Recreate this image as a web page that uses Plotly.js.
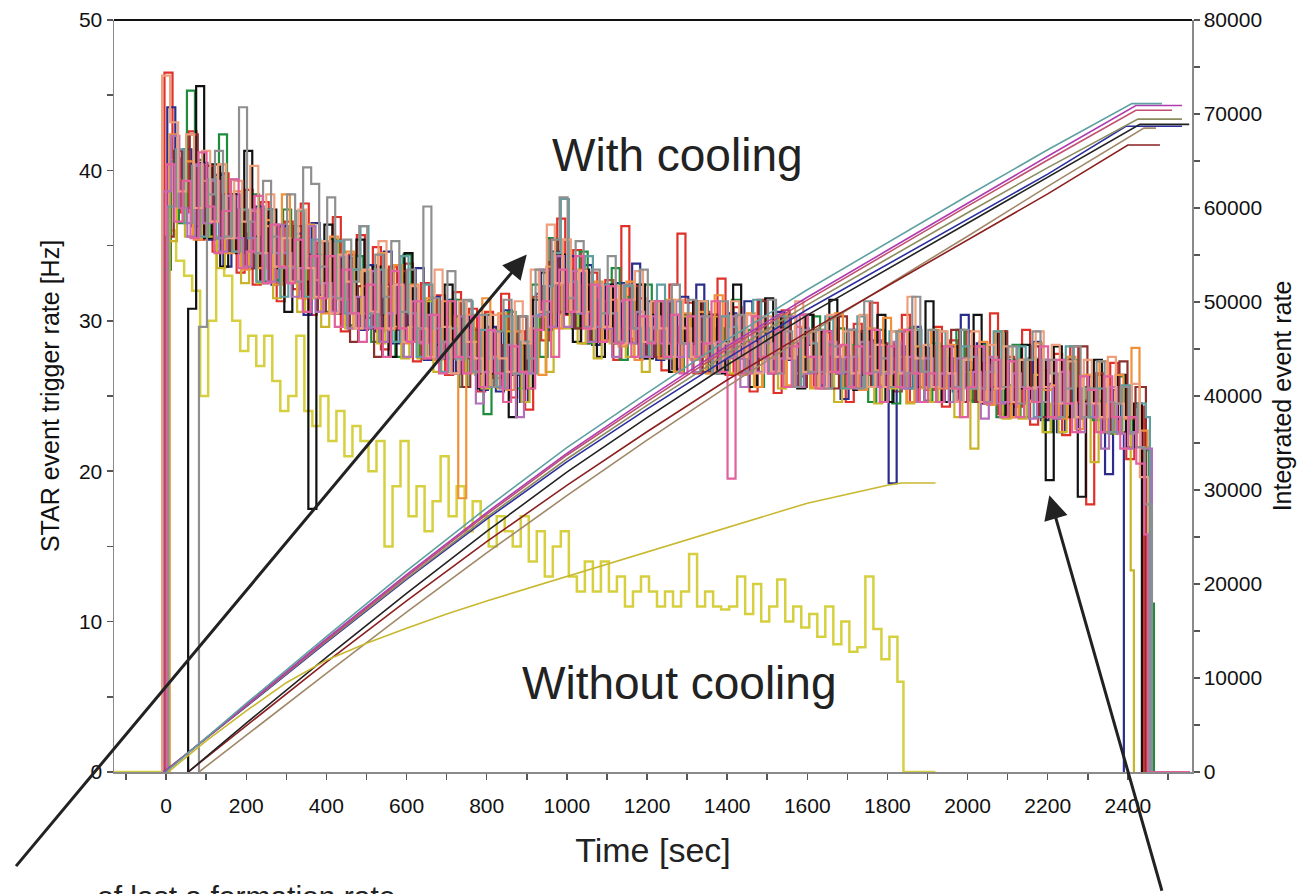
<!DOCTYPE html>
<html>
<head>
<meta charset="utf-8">
<script src="https://cdn.plot.ly/plotly-3.0.1.min.js"></script>
<style>html,body{margin:0;padding:0;background:#fff;overflow:hidden}</style>
</head>
<body>
<div id="chart" style="width:1303px;height:894px"></div>
<script>
const binWidth = 20; // sec per rate bin

// ---- STAR event trigger rate [Hz], runs WITH cooling (20 s bins) ----
const redRate = [46.5,40.8,37.2,42.6,35.4, 40.3,34.6,39.8,36.1,33.2, 38.7,32.4,37.9,34.8,31.3, 36.6,32.1,37.8,30.4,35.2, 31.6,36.9,29.3,34.4,35.7, 30.2,34.9,28.1,33.6,29.4, 33.8,27.3,32.5,28.6,31.7, 26.4,31.9,27.5,30.8,25.3, 30.6,26.2,31.8,24.9,29.3, 24.1,31.6,28.7,33.9,36.8, 30.4,34.7,28.5,33.2,29.6, 32.7,27.4,36.3,28.8,31.5, 27.6,31.3,26.7,32.4,35.8, 31.2,26.5,30.6,27.3,32.8, 26.4,30.9,28.6,25.3,31.4, 29.5,25.2,30.7,27.6,26.3, 30.4,25.6,29.2,26.5,28.3, 24.6,29.8,26.4,31.2,25.7, 28.5,25.3,30.4,24.6,28.2, 25.4,29.6,24.3,28.7,26.5, 29.3,24.6,27.2,30.5,23.8, 27.6,24.3,29.4,23.1,26.7, 23.6,27.8,22.4,28.3,24.7, 17.8,26.4,23.5,27.2,22.6, 20.8,24.3];
const navyRate = [44.2,38.6,41.4,36.3,40.5, 35.4,39.7,33.6,38.4,35.8, 33.5,37.6,34.7,32.4,36.3, 32.6,35.8,30.4,36.5,31.7, 35.3,30.6,34.2,31.5,29.4, 33.7,29.3,34.6,28.5,32.4, 29.7,33.5,27.4,31.6,28.3, 31.4,26.6,30.3,27.5,25.4, 29.6,25.3,30.7,26.4,24.6, 27.5,31.8,29.4,34.6,30.5, 34.3,29.6,33.7,28.4,32.2, 28.7,32.5,29.6,33.8,27.5, 31.3,27.4,30.5,26.8,31.6, 28.5,32.4,27.6,30.3,26.7, 30.5,26.6,31.3,27.7,29.2, 26.5,30.6,27.4,25.6,29.5, 28.4,25.7,29.3,26.6,24.8, 29.4,26.5,25.6,28.7,26.4, 19.2,28.3,25.5,29.6,26.7, 28.2,24.6,27.5,25.3,30.4, 24.7,28.5,25.4,27.3,23.6, 27.4,24.5,25.7,28.6,23.4, 25.8,22.6,27.3,24.5,23.7, 26.3,23.6,19.8,25.4,22.5];
const orangeRate = [42.4,37.5,40.6,35.4,39.3, 36.6,40.4,34.5,38.6,33.4, 37.3,33.5,36.7,32.4,38.4, 33.6,31.5,36.4,32.7,30.5, 35.6,31.4,34.6,29.5,33.3, 30.6,34.5,29.4,33.7,28.5, 32.4,28.6,31.5,27.4,31.3, 28.5,18.2,30.4,26.6,31.5, 27.6,30.5,25.4,29.3,26.6, 29.5,26.4,33.6,29.5,35.4, 30.6,33.4,29.5,32.6,28.7, 31.4,28.3,32.6,27.4,30.3, 29.6,27.5,31.4,26.6,30.5, 27.4,30.6,26.5,31.7,27.6, 28.6,26.4,30.5,25.6,29.3, 27.5,30.4,25.7,29.6,26.5, 25.6,29.4,26.6,30.5,25.5, 27.6,25.4,29.5,26.7,30.2, 26.6,29.4,24.6,28.3,25.6, 29.4,25.5,28.4,24.7,27.5, 25.5,28.6,24.4,29.3,25.6, 23.6,27.4,24.7,28.5,25.4, 25.7,23.5,27.6,22.8,26.4, 24.5,27.3,22.6,26.4,23.5, 28.2,22.7,21.6];
const greenRate = [33.4,40.6,36.5,45.3,40.7, 37.6,35.5,42.4,34.6,37.4, 34.5,38.4,33.6,36.5,32.7, 37.4,32.6,35.5,31.6,34.4, 30.6,35.4,32.5,29.7,34.3, 31.5,28.6,33.4,30.5,27.6, 34.4,29.5,27.6,31.3,28.4, 27.5,31.4,25.6,29.5,26.4, 23.8,29.4,26.5,30.6,25.5, 28.6,32.4,27.6,35.5,30.6, 33.4,29.5,34.6,28.5,31.4, 29.6,33.5,27.4,31.6,28.5, 32.4,27.6,30.5,28.5,26.6, 30.4,27.5,31.3,26.6,29.5, 27.6,31.4,26.5,29.4,25.6, 29.5,26.6,30.4,27.5,25.6, 26.6,30.3,25.5,28.4,29.5, 25.6,28.4,26.5,24.6,29.4, 27.6,24.5,27.4,29.5,25.6, 24.7,28.5,25.6,27.3,29.4, 26.5,24.6,28.4,25.5,23.6, 25.7,28.4,23.6,27.5,24.6, 22.6,26.4,24.5,27.4,23.5, 25.6,23.4,24.7,22.5,26.3, 23.6,21.6,21.4,11.2];
const blackRate = [30.8,45.6,35.5,40.4,33.6, 38.4,34.5,41.3,35.6,32.5, 37.4,33.5,30.6,35.4,32.6, 17.5,32.6,36.4,30.5,34.3, 31.6,35.4,29.5,33.6,30.4, 27.6,32.4,34.5,28.6,31.3, 29.6,27.5,32.4,26.5,30.3, 27.6,25.5,30.4,26.5,29.3, 23.6,28.4,25.5,31.4,33.2, 29.6,34.4,30.5,28.6,33.4, 29.5,27.6,32.4,28.5,31.3, 28.6,32.4,27.5,30.4,31.3, 26.6,30.4,28.5,31.3,27.6, 30.4,26.5,28.6,32.4,27.5, 25.6,29.4,31.5,26.6,30.3, 27.6,25.5,30.4,26.6,29.3, 31.4,26.5,27.6,25.4,29.3, 26.6,30.4,24.6,28.3,26.5, 29.4,25.6,31.3,26.5,24.6, 28.3,25.6,26.7,30.4,24.5, 27.4,29.3,23.6,25.5,28.4, 24.6,27.4,19.4,28.3,23.6, 25.5,18.3,24.6,27.4,22.6, 23.5,26.4,21.6,24.5];
const grayRate = [29.6,38.4,41.3,35.6,39.4, 44.2,36.6,34.5,39.3,35.6, 33.5,38.4,32.6,40.2,39.1, 33.6,38.2,31.5,35.4,32.6, 36.3,30.5,34.4,31.6,35.3, 30.6,33.4,29.5,37.6,31.5, 28.6,33.3,27.5,31.4,26.6, 30.4,25.6,29.3,31.4,26.5, 30.3,27.5,33.4,30.6,35.4, 38.2,31.5,35.3,29.6,33.4, 30.5,34.3,28.6,32.4,29.5, 33.4,28.6,31.3,27.5,32.4, 28.5,31.4,27.6,30.3,26.5, 31.3,27.6,30.4,26.5,29.3, 27.6,31.4,26.5,29.3,25.6, 30.4,26.6,29.4,25.5,28.3, 26.6,29.4,25.5,31.3,26.6, 27.5,25.6,29.3,26.5,31.6, 26.6,29.4,24.6,28.3,25.6, 29.4,25.5,28.3,24.6,27.4, 25.6,28.3,24.5,27.4,29.3, 24.6,27.4,23.6,25.5,28.3, 23.6,25.5,27.3,22.6,24.5, 25.6,22.5,21.6,17.8];
const salmonRate = [46.3,43.2,38.6,42.4,37.5, 41.3,36.6,40.4,35.5,39.3, 36.6,40.3,34.5,38.4,33.6, 35.5,32.6,37.4,33.5,31.6, 35.3,30.5,34.4,32.6,29.5, 33.4,30.6,35.3,29.5,32.4, 28.6,32.3,29.5,27.6,33.4, 29.6,26.5,31.3,28.6,27.5, 25.6,30.4,27.5,26.6,31.3, 28.5,33.4,30.6,36.4,32.5, 35.4,30.6,33.3,29.5,32.4, 29.6,32.3,28.5,31.4,33.3, 28.6,31.3,29.5,27.6,31.4, 29.5,27.6,31.3,28.5,26.6, 28.5,31.3,27.6,30.4,26.5, 30.3,26.6,29.4,27.5,31.3, 26.6,29.3,25.5,30.4,27.6, 29.3,26.5,30.4,25.6,28.4, 25.6,29.3,26.5,31.6,27.5, 28.4,25.6,29.3,26.5,24.6, 27.4,29.3,24.6,28.4,25.5, 28.3,24.6,27.4,25.5,29.3, 25.6,28.4,24.5,27.3,23.6, 27.4,24.5,23.6,27.6,24.5, 23.6,25.8,19.6];
const tealRate = [37.6,41.4,36.5,40.3,35.6, 39.4,35.5,38.3,34.6,37.4, 35.5,32.6,37.4,34.5,31.6, 33.5,37.3,31.6,35.4,32.5, 31.6,35.3,30.5,33.4,36.3, 29.6,33.4,30.5,28.6,34.3, 30.5,27.6,32.4,29.5,26.6, 29.5,27.4,31.3,26.6,29.4, 27.5,25.6,30.3,26.5,28.6, 26.5,30.4,32.3,34.5,38.1, 32.6,30.5,34.3,29.6,32.4, 30.5,28.6,32.3,29.5,27.6, 29.5,32.4,27.6,31.3,28.5, 27.6,31.3,28.5,26.6,30.3, 29.6,27.5,26.6,31.4,27.5, 26.6,30.3,27.5,25.6,29.4, 28.5,26.6,30.3,27.6,25.5, 27.6,30.3,25.6,28.4,26.5, 29.3,26.6,25.5,29.4,26.6, 25.6,29.3,26.5,24.6,28.3, 27.6,25.5,26.6,29.3,24.6, 24.6,28.3,25.5,23.6,27.4, 26.5,24.6,28.3,23.6,25.5, 23.6,25.5,24.6,22.6,25.7, 22.6,24.5,23.6];
const pinkRate = [40.4,36.6,39.3,35.5,41.2, 37.6,34.5,37.3,39.4,33.5, 34.6,38.3,32.5,36.4,33.6, 32.5,35.4,30.6,34.3,31.5, 34.3,29.6,33.4,30.5,28.6, 32.4,29.5,27.6,33.3,29.5, 28.6,31.3,27.5,30.4,26.5, 31.3,27.6,26.5,30.3,25.6, 29.4,26.5,24.6,28.3,26.6, 25.5,29.4,31.3,27.6,33.4, 30.6,34.3,29.5,32.4,28.6, 32.3,28.5,31.4,27.6,30.3, 28.5,31.3,27.6,30.4,26.5, 30.3,27.6,28.5,31.3,26.6, 19.5,28.6,26.5,30.3,27.6, 26.5,29.4,25.6,28.3,30.4, 27.6,25.5,29.3,26.6,28.4, 25.6,28.3,26.5,29.4,24.6, 28.3,25.6,29.4,26.5,24.6, 26.5,24.6,28.3,25.5,23.6, 25.6,28.3,24.5,27.4,23.6, 27.3,23.6,25.5,24.6,28.3, 23.6,27.4,24.5,22.6,26.3, 25.4,22.6,26.3,23.6,21.5, 23.6,20.5,15.8];
const oliveRate = [35.3,39.4,35.6,40.3,36.5, 35.6,33.5,38.3,34.6,32.5, 34.6,32.5,36.3,31.5,33.6, 32.5,30.6,34.3,31.5,29.6, 31.5,34.3,29.5,33.4,30.5, 30.6,28.5,32.3,29.6,27.5, 29.6,27.5,31.3,26.6,28.5, 27.6,30.3,26.5,28.6,25.5, 27.6,25.5,29.3,26.5,24.6, 27.5,30.3,26.6,32.4,29.5, 31.6,28.5,30.6,27.5,29.6, 28.5,31.3,27.6,29.5,26.6, 29.5,27.6,28.5,26.6,30.3, 27.5,28.6,26.5,30.3,27.6, 26.5,28.6,27.5,25.6,28.5, 27.6,25.5,28.6,26.5,27.6, 25.5,27.6,26.5,24.6,27.5, 26.6,25.5,27.6,24.5,26.6, 25.5,27.6,24.5,26.6,25.5, 24.6,26.5,25.5,23.6,26.6, 21.5,25.6,24.5,26.6,23.5, 25.6,23.5,24.6,26.4,22.6, 24.5,22.6,25.5,23.6,24.5, 20.6,23.5,24.6,22.5,23.6, 13.4];
const mauveRate = [38.6,42.3,37.5,35.6,40.4, 36.5,39.3,34.6,38.3,35.5, 33.6,37.4,34.5,32.6,36.4, 34.5,31.6,33.5,36.3,30.6, 32.5,30.6,34.3,29.5,31.6, 29.5,33.3,28.6,30.5,32.4, 27.6,31.3,28.5,30.4,27.5, 28.6,26.5,30.3,27.6,24.5, 26.6,29.3,25.5,28.4,23.6, 26.5,30.3,33.4,29.6,34.3, 29.6,33.3,30.5,28.6,32.3, 29.5,27.6,31.3,28.5,30.6, 27.6,30.3,28.5,31.3,27.6, 28.5,26.6,30.3,27.5,28.6, 27.5,30.3,25.6,28.5,26.6, 28.5,26.6,27.5,30.3,25.6, 26.5,27.6,25.5,28.6,26.5, 27.6,25.5,28.6,26.5,25.6, 26.5,28.6,25.5,27.6,24.6, 27.5,25.6,26.5,24.6,27.5, 25.5,26.6,23.5,27.6,24.5, 24.6,26.5,25.6,23.5,25.6, 25.6,23.5,26.6,24.5,22.6, 24.5,23.6,21.5,25.6,22.5, 21.5,22.6,21.5];
const brownRate = [35.6,41.3,37.5,42.4,36.6, 40.3,35.5,38.4,34.6,37.3, 33.5,37.4,32.6,36.3,34.5, 32.6,36.3,31.5,34.4,30.6, 34.3,30.5,33.4,28.6,32.3, 30.5,27.6,32.4,29.5,33.3, 28.6,31.3,27.5,30.4,28.6, 27.5,30.3,25.6,29.4,26.5, 29.3,25.6,28.4,26.5,30.3, 26.6,29.4,32.3,35.4,30.6, 33.3,29.5,32.4,28.6,31.3, 30.5,28.6,29.5,32.3,27.6, 29.5,27.6,31.3,28.5,29.6, 28.5,31.3,26.6,30.4,27.5, 27.6,30.3,28.5,26.6,31.3, 27.5,26.6,30.4,28.5,25.6, 28.6,26.5,27.6,25.5,30.3, 26.6,29.3,27.5,25.6,28.4, 27.5,25.6,29.3,26.5,27.6, 25.6,28.3,26.5,29.4,24.6, 28.3,24.6,26.5,25.6,29.3, 24.5,27.4,25.6,28.3,23.6, 25.6,23.5,27.4,24.6,28.3, 23.6,26.5,22.6,24.5,27.3, 23.5,25.6];

// ---- run WITHOUT cooling ----
const noCoolRate = [36,34,33,32,25, 30,35,33,30,28, 29,27,29,26,24, 25,29,24,23,25, 22,24,21,23,22, 20,22,15,19,22, 17,19,16,18,21, 17,19,16,18,17, 15,17,16,15,17, 14,16,13,15,16, 13,12,14,12,14, 12,13,11,12,13, 12,11,12,11,12, 14.5,11,12,11,10.8, 11,13,10.5,12.5,10, 11,12.8,10,11,9.6, 10.5,9,11,8.5,10, 8,8.3,13,9.5,7.5, 9,6];

// ---- Integrated event rate (right axis) ----
const intTimeTeal = [0,200,400,600,800,1000,1200,1400,1600,1800,2000,2200,2410,2485];
const intTeal     = [0,7300,14400,21400,28100,34500,40300,46000,51300,56300,61300,66200,71100,71100];
const intTimeMagenta = [-3,200,400,600,800,1000,1200,1400,1600,1800,2000,2200,2420,2535];
const intMagenta     = [0,7150,14150,21000,27600,33900,39700,45300,50500,55500,60500,65500,70900,70900];
const intTimeRose = [-4,200,400,600,800,1000,1200,1400,1600,1800,2000,2200,2420,2510];
const intRose     = [0,7050,14000,20800,27400,33700,39400,45000,50200,55200,60200,65100,70400,70400];
const intTimeOliveGray = [-5,200,400,600,800,1000,1200,1400,1600,1800,2000,2200,2425,2535];
const intOliveGray     = [0,7000,13900,20600,27100,33300,39000,44500,49700,54600,59500,64300,69450,69450];
const intTimeBlack = [55,200,400,600,800,1000,1200,1400,1600,1800,2000,2200,2430,2553];
const intBlack     = [0,5200,12200,19000,25600,31900,37700,43300,48600,53500,58400,63300,68900,68900];
const intTimeBlue = [-6,200,400,600,800,1000,1200,1400,1600,1800,2000,2200,2395,2535];
const intBlue     = [0,6950,13800,20500,26900,33000,38600,44000,49200,54000,58800,63600,68700,68700];
const intTimeTan = [82,200,400,600,800,1000,1200,1400,1600,1800,2000,2200,2440,2470];
const intTan     = [0,3900,10500,17000,23300,29400,35300,41000,46500,51800,57000,62300,68500,68500];
const intTimeDarkRed = [55,200,400,600,800,1000,1200,1400,1600,1800,2000,2200,2400,2480];
const intDarkRed     = [0,4900,11700,18200,24500,30500,36200,41700,46800,51700,56600,61500,66700,66700];
const intTimeNoCool = [5,100,200,300,400,500,600,700,800,1000,1200,1400,1600,1800,1835,1920];
const intNoCool     = [0,3300,6500,9500,11900,13700,15300,16800,18200,20800,23400,26000,28600,30500,30750,30750];

const coolingRuns = [
  {values: redRate,    start: -4, end: 2440, color: '#e0302a'},
  {values: navyRate,   start: 3,  end: 2390, color: '#2a2d8c'},
  {values: greenRate,  start: -8, end: 2465, color: '#1e8c3c'},
  {values: blackRate,  start: 55, end: 2435, color: '#111111'},
  {values: oliveRate,  start: 7,  end: 2415, color: '#c8b428'},
  {values: brownRate,  start: -1, end: 2445, color: '#8b3030'},
  {values: orangeRate, start: 9,  end: 2455, color: '#f0903a'},
  {values: tealRate,   start: 5,  end: 2455, color: '#5e9ea0'},
  {values: mauveRate,  start: -7, end: 2460, color: '#b070b8'},
  {values: salmonRate, start: -10, end: 2450, color: '#eea07e'},
  {values: grayRate,   start: 82, end: 2460, color: '#8f8f8f'},
  {values: pinkRate,   start: 1,  end: 2450, color: '#e2609e', tail: 2555}
];

const integrated = [
  {x: intTimeTan, y: intTan, color: '#a08868'},
  {x: intTimeDarkRed, y: intDarkRed, color: '#8b2020'},
  {x: intTimeBlue, y: intBlue, color: '#2b2f9f'},
  {x: intTimeBlack, y: intBlack, color: '#222222'},
  {x: intTimeOliveGray, y: intOliveGray, color: '#8c8c60'},
  {x: intTimeRose, y: intRose, color: '#c05070'},
  {x: intTimeMagenta, y: intMagenta, color: '#b03cb0'},
  {x: intTimeTeal, y: intTeal, color: '#5fa0a0'},
  {x: intTimeNoCool, y: intNoCool, color: '#c8b830'}
];

function stepXY(values, start, end, lead, tail) {
  const x = [], y = [];
  if (lead !== undefined) { x.push(lead); y.push(0); }
  x.push(start); y.push(0);
  values.forEach((v, i) => { x.push(start + binWidth * i); y.push(v); });
  x.push(end); y.push(0);
  if (tail !== undefined) { x.push(tail); y.push(0); }
  return {x, y};
}

const traces = [];
{
  const s = stepXY(noCoolRate, 5, 1840, -130, 1920);
  traces.push({type: 'scatter', mode: 'lines', x: s.x, y: s.y, yaxis: 'y',
    line: {shape: 'hv', width: 2.5, color: '#d6d040'}, hoverinfo: 'skip'});
}
coolingRuns.forEach(r => {
  const s = stepXY(r.values, r.start, r.end, undefined, r.tail);
  traces.push({type: 'scatter', mode: 'lines', x: s.x, y: s.y, yaxis: 'y',
    line: {shape: 'hv', width: 2.2, color: r.color}, hoverinfo: 'skip'});
});
integrated.forEach(r => {
  traces.push({type: 'scatter', mode: 'lines', x: r.x, y: r.y, yaxis: 'y2',
    line: {width: 1.6, color: r.color}, hoverinfo: 'skip'});
});

const F = 'Liberation Sans, Arial, Helvetica, sans-serif';
const tickFont = {family: F, size: 21, color: '#111'};

const layout = {
  width: 1303, height: 894,
  margin: {l: 114, r: 111, t: 20, b: 122, pad: 0},
  paper_bgcolor: '#fff', plot_bgcolor: '#fff',
  showlegend: false,
  xaxis: {
    range: [-130, 2560], tick0: 0, dtick: 200,
    ticks: 'outside', ticklen: 6, tickwidth: 1.5, tickcolor: '#555',
    showline: true, linecolor: '#8a8a8a', linewidth: 1.5,
    showgrid: false, zeroline: false, tickfont: tickFont, ticklabelstandoff: 8,
    minor: {dtick: 100, tick0: 0, ticks: 'outside', ticklen: 6, tickwidth: 1.5, tickcolor: '#555', showgrid: false},
    title: {text: 'Time [sec]', font: {family: F, size: 34, color: '#222'}, standoff: 22}
  },
  yaxis: {
    range: [0, 50], dtick: 10,
    ticks: 'outside', ticklen: 6, tickwidth: 1.5, tickcolor: '#555',
    showline: true, linecolor: '#8a8a8a', linewidth: 1.5,
    showgrid: false, zeroline: false, tickfont: tickFont,
    minor: {dtick: 5, ticks: 'outside', ticklen: 6, tickwidth: 1.5, tickcolor: '#555', showgrid: false},
    title: {text: 'STAR event trigger rate [Hz]', font: {family: F, size: 25, color: '#111'}, standoff: 12}
  },
  yaxis2: {
    overlaying: 'y', side: 'right', anchor: 'x',
    range: [0, 80000], dtick: 10000, tickformat: 'd',
    ticks: 'outside', ticklen: 6, tickwidth: 1.5, tickcolor: '#555',
    showline: true, linecolor: '#8a8a8a', linewidth: 1.5,
    showgrid: false, zeroline: false, tickfont: tickFont,
    minor: {dtick: 5000, ticks: 'outside', ticklen: 6, tickwidth: 1.5, tickcolor: '#555', showgrid: false},
    title: {text: 'Integrated event rate', font: {family: F, size: 25, color: '#111'}, standoff: 12}
  },
  shapes: [
    {type: 'line', xref: 'paper', yref: 'paper', x0: 0, x1: 1, y0: 1, y1: 1, line: {color: '#111', width: 2}}
  ],
  annotations: [
    {x: 1277, y: 41.0, xref: 'x', yref: 'y', text: 'With cooling', showarrow: false,
     font: {family: F, size: 46, color: '#222'}},
    {x: 1282, y: 5.9, xref: 'x', yref: 'y', text: 'Without cooling', showarrow: false,
     font: {family: F, size: 46, color: '#222'}},
    {x: 900, y: 34.4, xref: 'x', yref: 'y', text: '', showarrow: true, ax: -512, ay: 613,
     arrowhead: 2, arrowsize: 1.6, arrowwidth: 3, arrowcolor: '#222'},
    {x: 2204, y: 18.4, xref: 'x', yref: 'y', text: '', showarrow: true, ax: 113, ay: 397,
     arrowhead: 2, arrowsize: 1.6, arrowwidth: 3, arrowcolor: '#222'},
    {x: -0.018, y: -0.141, xref: 'paper', yref: 'paper', xanchor: 'left', yanchor: 'top',
     text: 'of last a formation rate', showarrow: false, font: {family: F, size: 30, color: '#222'}}
  ]
};

Plotly.newPlot('chart', traces, layout, {displayModeBar: false, staticPlot: true});
</script>
</body>
</html>
